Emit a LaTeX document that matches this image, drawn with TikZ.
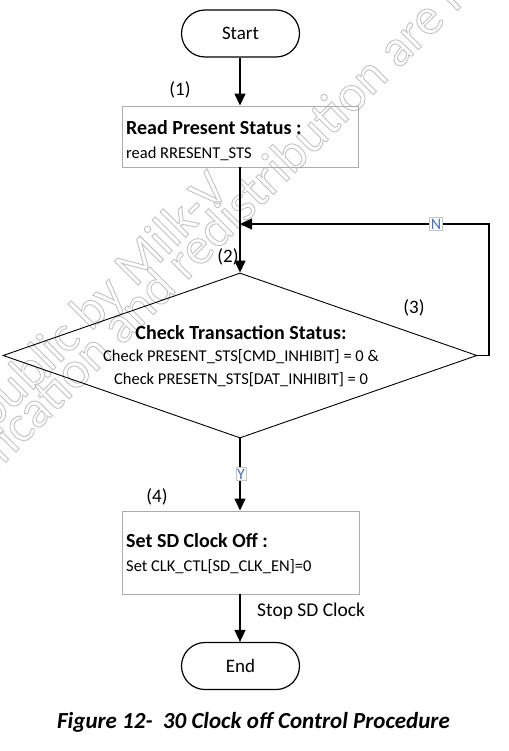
\documentclass[tikz,border=0pt]{standalone}
\usepackage{fontspec}
\setmainfont{Carlito}
\usetikzlibrary{arrows.meta,shapes.geometric,shapes.misc}
\definecolor{lblblue}{HTML}{4472C4}
\newcommand{\outlinetext}[1]{\special{pdf:literal direct 1 Tr 0.9 w}#1\special{pdf:literal direct 0 Tr}}
\begin{document}
\begin{tikzpicture}[x=1pt,y=-1pt,
  arr/.style={line width=1.4pt,-{Triangle[length=12pt,width=11pt]}},
  procbox/.style={draw=gray!65, line width=0.9pt, inner sep=0pt},
  term/.style={draw, line width=1.2pt, rounded rectangle, minimum width=118pt, minimum height=47pt, inner sep=0pt, font=\fontsize{19}{22}\selectfont},
  head/.style={anchor=base west, inner sep=0pt, font=\fontsize{20}{24}\selectfont\bfseries},
  body/.style={anchor=base west, inner sep=0pt, font=\fontsize{16.5}{20}\selectfont},
  dtext/.style={anchor=base, inner sep=0pt},
  step label/.style={inner sep=0pt, font=\fontsize{19}{22}\selectfont},
  yn/.style={draw=gray!45, fill=white, line width=0.6pt, inner sep=1.2pt, text=lblblue, font=\fontsize{16}{18}\selectfont},
  wmark/.style={text=gray!48, rotate=45, inner sep=0pt, font=\fontsize{52}{52}\selectfont}]
\path[use as bounding box, clip] (0,0) rectangle (508,751);

% watermark (behind the diagram)
\node[wmark, anchor=base east] (wm1) at (231,192) {\outlinetext{Made public by Milk-V}};
\node[wmark, anchor=base east] (wm2) at (447,21) {\outlinetext{modification and redistribution are\rlap{ not allowed}}};

% terminals
\node[term] (start) at (240.5,33.5) {Start};
\node[term] (end) at (240.5,666) {End};

% box 1
\node[procbox, minimum width=236pt, minimum height=61pt] (box1) at (240,136.5) {};
\node[head] (h1) at (126,135) {Read Present Status :};
\node[body] (b1) at (126,159) {read RRESENT\_STS};

% diamond
\node[diamond, draw, line width=0.9pt, minimum width=474pt, minimum height=165pt, inner sep=0pt] (dia) at (240,355.5) {};
\node[dtext, font=\fontsize{20}{24}\selectfont\bfseries] (dh) at (241,339) {Check Transaction Status:};
\node[dtext, font=\fontsize{16.5}{20}\selectfont] (d1) at (241,361) {Check PRESENT\_STS[CMD\_INHIBIT] = 0 \&};
\node[dtext, font=\fontsize{16.5}{20}\selectfont] (d2) at (241,384) {Check PRESETN\_STS[DAT\_INHIBIT] = 0};

% box 4
\node[procbox, minimum width=237pt, minimum height=83pt] (box4) at (240.5,552.5) {};
\node[head] (h4) at (126,547) {Set SD Clock Off :};
\node[body] (b4) at (126,571) {Set CLK\_CTL[SD\_CLK\_EN]=0};

% step labels
\node[step label] (l1) at (180,90) {(1)};
\node[step label] (l2) at (228,257) {(2)};
\node[step label] (l3) at (414,308) {(3)};
\node[step label] (l4) at (157,497) {(4)};

% connectors
\coordinate (join) at (240,224);
\coordinate (rt) at (489,355.5);
\draw[arr] (start.south -| box1.north) -- (box1.north);
\draw[arr] (box1.south) -- (dia.north);
\draw[arr] (dia.east) -- (rt) |- (join);
\node[yn] (nlab) at (436,224) {N};
\draw[arr] (dia.south) -- (dia.south |- box4.north);
\node[yn] (ylab) at (241,474) {Y};
\draw[arr] (box4.south -| dia.south) -- (end.north -| dia.south);
\node[anchor=base west, inner sep=0pt, font=\fontsize{19.5}{22}\selectfont] (stop) at (257,616) {Stop SD Clock};

% caption
\node[anchor=base, inner sep=0pt, font=\fontsize{23}{26}\selectfont\bfseries\itshape] (cap) at (253.5,728) {Figure 12-~~30 Clock off Control Procedure};
\end{tikzpicture}
\end{document}
